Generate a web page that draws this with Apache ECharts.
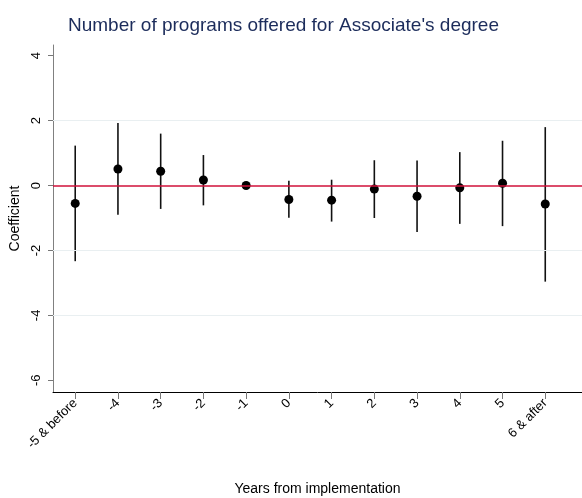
<!DOCTYPE html>
<html>
<head>
<meta charset="utf-8">
<script src="https://cdn.jsdelivr.net/npm/echarts@6/dist/echarts.min.js"></script>
<style>
html,body{margin:0;padding:0;background:#fff;}
#chart{width:582px;height:498px;}
</style>
</head>
<body>
<div id="chart"></div>
<script>
// Event-time positions and their tick labels
const positions = [-5, -4, -3, -2, -1, 0, 1, 2, 3, 4, 5, 6];
const categories = ['-5 & before', '-4', '-3', '-2', '-1', '0', '1', '2', '3', '4', '5', '6 & after'];
// Point estimates and 95% CI bounds (baseline -1 omitted: no CI)
const coef   = [-0.55, 0.51, 0.44, 0.17, 0.00, -0.43, -0.45, -0.11, -0.33, -0.07, 0.07, -0.57];
const ciLow  = [-2.33, -0.90, -0.72, -0.61, null, -0.99, -1.11, -1.00, -1.43, -1.18, -1.25, -2.96];
const ciHigh = [ 1.23, 1.93, 1.60, 0.94, null, 0.15, 0.18, 0.78, 0.77, 1.03, 1.38, 1.80];
// Y axis tick labels and gridlines
const yTicks = [-6, -4, -2, 0, 2, 4];
const gridValues = [2, -2, -4];
const refLine = 0;

const labelMap = {};
positions.forEach((p, i) => { labelMap[p] = categories[i]; });

const chart = echarts.init(document.getElementById('chart'), null, {renderer: 'canvas'});
const font = 'Liberation Sans, Arial, sans-serif';

const option = {
  backgroundColor: '#fff',
  animation: false,
  title: {
    text: "Number of programs offered for Associate's degree",
    left: 63,
    top: 11,
    textStyle: {color: '#1c2c5b', fontSize: 19, fontWeight: 'normal', fontFamily: font}
  },
  grid: {left: 53, right: 0, top: 45, bottom: 106, containLabel: false, outerBoundsMode: 'none'},
  xAxis: {
    type: 'value',
    min: -5.52, max: 6.86,
    name: 'Years from implementation',
    nameLocation: 'middle',
    nameGap: 90,
    nameTextStyle: {color: '#000', fontSize: 14, fontFamily: font},
    axisLine: {show: true, onZero: false, lineStyle: {color: '#000', width: 1}},
    axisTick: {show: true, customValues: positions, length: 7, lineStyle: {color: '#777'}},
    axisLabel: {
      show: true, customValues: positions, rotate: 45, margin: 9,
      color: '#000', fontSize: 13, fontFamily: font,
      formatter: v => labelMap[v] !== undefined ? labelMap[v] : ''
    },
    splitLine: {show: false}
  },
  yAxis: {
    type: 'value',
    min: -6.36, max: 4.33,
    name: 'Coefficient',
    nameLocation: 'middle',
    nameGap: 28,
    nameTextStyle: {color: '#000', fontSize: 14, fontFamily: font},
    axisLine: {show: true, onZero: false, lineStyle: {color: '#808080', width: 1}},
    axisTick: {show: true, customValues: yTicks, length: 5, lineStyle: {color: '#777'}},
    axisLabel: {
      show: true, customValues: yTicks, rotate: 90, margin: 10,
      color: '#000', fontSize: 13, fontFamily: font
    },
    splitLine: {show: false}
  },
  series: [
    {
      type: 'line',
      data: [],
      silent: true,
      markLine: {
        silent: true, symbol: 'none', label: {show: false},
        data: gridValues.map(v => ({yAxis: v, lineStyle: {color: '#e9eff1', width: 1.2, type: 'solid'}}))
          .concat([{yAxis: refLine, lineStyle: {color: '#d0103a', width: 1.6, type: 'solid'}}])
      }
    },
    {
      type: 'custom',
      silent: true,
      data: positions.map((p, i) => [p, ciLow[i], ciHigh[i]]).filter(d => d[1] !== null),
      renderItem: function (params, api) {
        const lo = api.coord([api.value(0), api.value(1)]);
        const hi = api.coord([api.value(0), api.value(2)]);
        return {
          type: 'line',
          shape: {x1: lo[0], y1: lo[1], x2: hi[0], y2: hi[1]},
          style: {stroke: '#111', lineWidth: 1.6}
        };
      },
      z: 3
    },
    {
      type: 'scatter',
      data: positions.map((p, i) => [p, coef[i]]),
      symbol: 'circle',
      symbolSize: 9,
      itemStyle: {color: '#000', opacity: 1},
      z: 4
    }
  ]
};
chart.setOption(option);
</script>
</body>
</html>
